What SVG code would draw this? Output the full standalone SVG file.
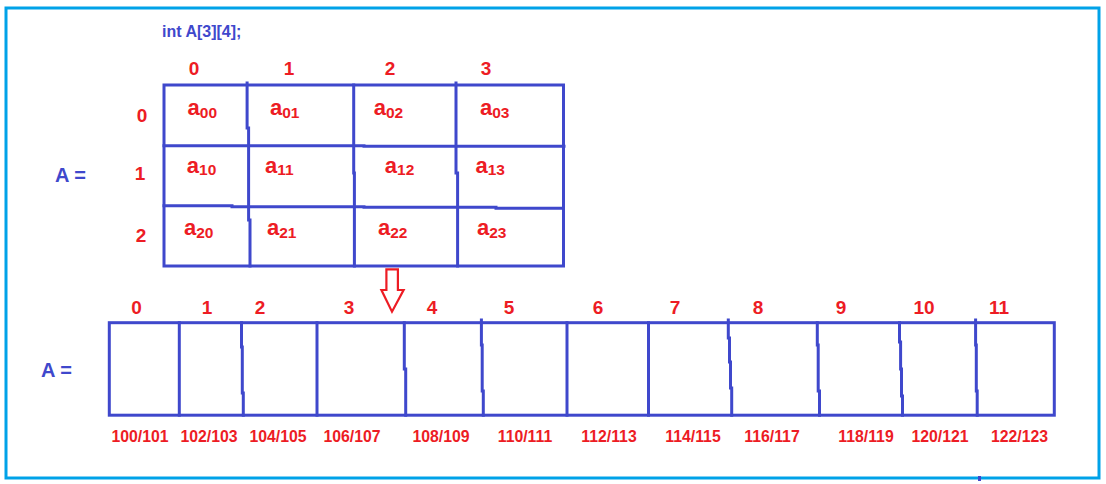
<svg xmlns="http://www.w3.org/2000/svg" width="1106" height="484" viewBox="0 0 1106 484">
<style>
.ln{fill:none;stroke:#3F48CC;stroke-width:3;stroke-linecap:square}
.red{fill:#ED1C24;font-family:"Liberation Sans",Arial,sans-serif;font-weight:bold}
.blue{fill:#3F48CC;font-family:"Liberation Sans",Arial,sans-serif;font-weight:bold}
.idx{font-size:19px;text-anchor:middle}
.addr{font-size:15.8px;text-anchor:middle}
.cell{font-size:22px}
.sub{font-size:15.5px}
</style>
<rect x="6" y="8" width="1093" height="470" fill="#fff" stroke="#00A2E8" stroke-width="3"/>
<rect x="978" y="476" width="3" height="5" fill="#3F48CC"/>
<g id="declaration"><text class="blue" x="162" y="37" font-size="16">int A[3][4];</text></g>
<g id="matrix-label"><text class="blue" x="55" y="182" font-size="20">A =</text></g>
<g id="col-headers">
<text class="red idx" x="194" y="75">0</text>
<text class="red idx" x="289" y="75">1</text>
<text class="red idx" x="390" y="75">2</text>
<text class="red idx" x="486" y="75">3</text>
</g>
<g id="row-headers">
<text class="red idx" x="142" y="122" font-size="20">0</text>
<text class="red idx" x="140" y="180" font-size="20">1</text>
<text class="red idx" x="141" y="242" font-size="20">2</text>
</g>
<g id="matrix">
<rect class="ln" x="164" y="85" width="399.5" height="181"/>
<path class="ln" d="M164 145.7H364M364 146.3H564"/>
<path class="ln" d="M164 205.7H232M232 206.7H364M364 207.3H496M496 208.3H563.5"/>
<path class="ln" d="M247.1 83V128M248.6 128V220M250 220V266"/>
<path class="ln" d="M353.7 85V173M354.4 173V266"/>
<path class="ln" d="M456 83V173M457.6 173V266"/>
</g>
<g id="cells">
<text class="red cell" x="187.6" y="115">a<tspan class="sub" dy="2.5">00</tspan></text>
<text class="red cell" x="270" y="115">a<tspan class="sub" dy="2.5">01</tspan></text>
<text class="red cell" x="373.7" y="115">a<tspan class="sub" dy="2.5">02</tspan></text>
<text class="red cell" x="480" y="115">a<tspan class="sub" dy="2.5">03</tspan></text>
<text class="red cell" x="186.8" y="172.7">a<tspan class="sub" dy="2.5">10</tspan></text>
<text class="red cell" x="265" y="172.7">a<tspan class="sub" dy="2.5">11</tspan></text>
<text class="red cell" x="384.8" y="172.7">a<tspan class="sub" dy="2.5">12</tspan></text>
<text class="red cell" x="475.4" y="172.7">a<tspan class="sub" dy="2.5">13</tspan></text>
<text class="red cell" x="184" y="235">a<tspan class="sub" dy="2.5">20</tspan></text>
<text class="red cell" x="267" y="235">a<tspan class="sub" dy="2.5">21</tspan></text>
<text class="red cell" x="378" y="235">a<tspan class="sub" dy="2.5">22</tspan></text>
<text class="red cell" x="477" y="235">a<tspan class="sub" dy="2.5">23</tspan></text>
</g>
<g id="connectors">
<path d="M386.4 269.3H397.9V290H403.6L392 311.7L381.4 290H386.4Z" fill="#fff" stroke="#ED1C24" stroke-width="2.2" stroke-linejoin="miter"/>
</g>
<g id="array-label"><text class="blue" x="41" y="377" font-size="20">A =</text></g>
<g id="array-indices">
<text class="red idx" x="136.5" y="314">0</text>
<text class="red idx" x="207" y="314">1</text>
<text class="red idx" x="260" y="314">2</text>
<text class="red idx" x="349" y="314">3</text>
<text class="red idx" x="432" y="314">4</text>
<text class="red idx" x="509" y="314">5</text>
<text class="red idx" x="598" y="314">6</text>
<text class="red idx" x="675" y="314">7</text>
<text class="red idx" x="758" y="314">8</text>
<text class="red idx" x="841" y="314">9</text>
<text class="red idx" x="924" y="314">10</text>
<text class="red idx" x="999" y="314">11</text>
</g>
<g id="array">
<rect class="ln" x="109.3" y="322.7" width="945" height="92.5"/>
<path class="ln" d="M179.3 322.7V415.2"/>
<path class="ln" d="M241.5 322.7V347M242.3 347V393M243.3 393V415.2"/>
<path class="ln" d="M317 322.7V415.2"/>
<path class="ln" d="M404.3 322.7V369M405.7 369V415.2"/>
<path class="ln" d="M481.4 320V345M482.2 345V391M483.3 391V415.2"/>
<path class="ln" d="M567 322.7V415.2"/>
<path class="ln" d="M648.5 322.7V415.2"/>
<path class="ln" d="M728.3 320V338M729.5 338V362M730.5 362V388M731.7 388V415.2"/>
<path class="ln" d="M817.3 322.7V345M818.2 345V391M819.5 391V415.2"/>
<path class="ln" d="M899.5 322.7V342M900.6 342V369M901.5 369V396M902.5 396V415.2"/>
<path class="ln" d="M975.6 320V345M976.3 345V391M977.2 391V415.2"/>
</g>
<g id="addresses">
<text class="red addr" x="140" y="441.7">100/101</text>
<text class="red addr" x="209" y="441.7">102/103</text>
<text class="red addr" x="278" y="441.7">104/105</text>
<text class="red addr" x="352" y="441.7">106/107</text>
<text class="red addr" x="441" y="441.7">108/109</text>
<text class="red addr" x="525" y="441.7">110/111</text>
<text class="red addr" x="609" y="441.7">112/113</text>
<text class="red addr" x="693" y="441.7">114/115</text>
<text class="red addr" x="772" y="441.7">116/117</text>
<text class="red addr" x="866" y="441.7">118/119</text>
<text class="red addr" x="940" y="441.7">120/121</text>
<text class="red addr" x="1019.5" y="441.7">122/123</text>
</g>
</svg>
